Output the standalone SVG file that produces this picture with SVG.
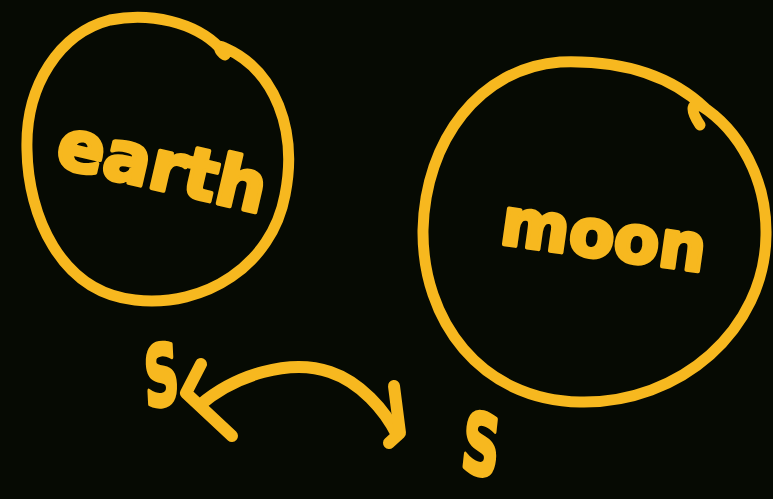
<svg xmlns="http://www.w3.org/2000/svg" width="773" height="499" viewBox="0 0 773 499">
<style>
.ln{fill:none;stroke:#f7b81f;stroke-width:11;stroke-linecap:round;stroke-linejoin:round}
.arr{fill:none;stroke:#f7b81f;stroke-width:12;stroke-linecap:round;stroke-linejoin:round}
.lbl{font-family:"DejaVu Sans",sans-serif;font-weight:bold;fill:#f7b81f;stroke:#f7b81f;stroke-width:4;stroke-linejoin:round;text-anchor:middle}
</style>
<rect width="773" height="499" fill="#060a03"/>
<g id="earth">
<path class="ln" d="M220,48 C195,22 150,12 110,20 C60,33 25,85 27,150 C28,215 60,292 135,300 C205,308 272,265 285,195 C298,130 275,70 225,48 C215,42 220,52 225,55"/>
<text class="lbl" x="162" y="190" font-size="70" transform="rotate(13 162 168)">earth</text>
</g>
<g id="moon">
<path class="ln" d="M700,125 C690,110 690,100 705,108 C670,75 620,60 560,62 C480,68 425,140 423,230 C422,320 480,400 580,402 C680,404 765,330 766,235 C767,180 740,130 700,105"/>
<text class="lbl" x="604" y="258" font-size="66" transform="rotate(8 604 235)">moon</text>
</g>
<g id="connectors">
<path class="arr" d="M200,405 C235,375 290,358 330,372 C360,382 385,410 397,435"/>
<path class="arr" d="M201,364 L186,393 L232,436"/>
<path class="arr" d="M394,386 L400,433 L389,443"/>
</g>
<g id="s-left">
<text class="lbl" x="0" y="0" font-size="80" transform="translate(163,405) scale(0.6,1.05) rotate(-5)">S</text>
</g>
<g id="s-right">
<text class="lbl" x="0" y="0" font-size="80" transform="translate(478,474) scale(0.65,1.05) rotate(10)">S</text>
</g>
</svg>
